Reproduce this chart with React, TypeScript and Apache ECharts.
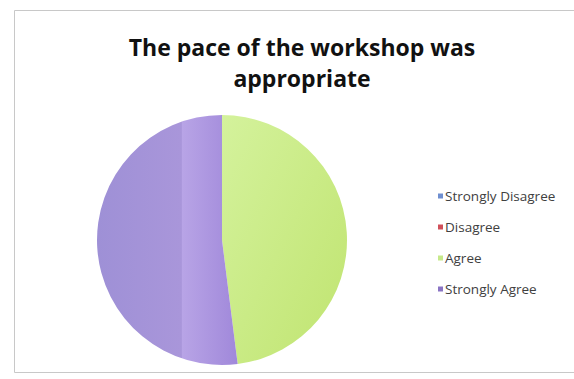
import React, { useEffect, useRef } from "react";
import * as echarts from "echarts";

const titleText = "The pace of the workshop was\nappropriate";
const categories = ["Strongly Disagree", "Disagree", "Agree", "Strongly Agree"];
const values = [0, 0, 12, 13];
const legendColors = ["#6f8fd0", "#d0505a", "#c6e98a", "#8a74c4"];

export default function App() {
  const ref = useRef<HTMLDivElement>(null);
  useEffect(() => {
    if (!ref.current) return;
    const chart = echarts.init(ref.current, undefined, { renderer: "svg" });
    const fills: any[] = [
      legendColors[0],
      legendColors[1],
      new echarts.graphic.LinearGradient(0, 0, 1, 1, [
        { offset: 0, color: "#d4f29c" },
        { offset: 1, color: "#c0e470" },
      ]),
      new echarts.graphic.LinearGradient(0, 0, 1, 0, [
        { offset: 0, color: "#9e90d6" },
        { offset: 0.6, color: "#a996da" },
        { offset: 0.605, color: "#b8a4e6" },
        { offset: 1, color: "#a088da" },
      ]),
    ];
    chart.setOption({
      animation: false,
      backgroundColor: "#ffffff",
      title: {
        text: titleText,
        left: 297,
        top: 26,
        textAlign: "center",
        textStyle: {
          fontFamily: "Open Sans",
          fontWeight: "bold",
          fontSize: 23,
          lineHeight: 31,
          color: "#111111",
        },
      },
      legend: {
        orient: "vertical",
        left: 433,
        top: 184,
        itemWidth: 5,
        itemHeight: 5,
        itemGap: 17,
        icon: "rect",
        selectedMode: false,
        textStyle: {
          fontFamily: "Open Sans",
          fontSize: 13.5,
          lineHeight: 14,
          color: "#404040",
          padding: [0, 0, 0, -3],
        },
        data: categories.map((c, i) => ({
          name: c,
          itemStyle: { color: legendColors[i] },
        })),
      },
      graphic: [
        {
          type: "rect",
          shape: { x: 14.5, y: 10.5, width: 600, height: 362 },
          style: { fill: "none", stroke: "#c8c8c8", lineWidth: 1 },
          silent: true,
        },
      ],
      series: [
        {
          type: "pie",
          center: [222, 240],
          radius: 125,
          startAngle: 90,
          clockwise: true,
          label: { show: false },
          labelLine: { show: false },
          emphasis: { disabled: true },
          itemStyle: { borderWidth: 0 },
          data: categories.map((c, i) => ({
            name: c,
            value: values[i],
            itemStyle: { color: fills[i] },
          })),
        },
      ],
    });
    return () => chart.dispose();
  }, []);
  return (
    <div
      ref={ref}
      style={{ position: "fixed", left: 0, top: 0, width: 574, height: 379 }}
    />
  );
}
